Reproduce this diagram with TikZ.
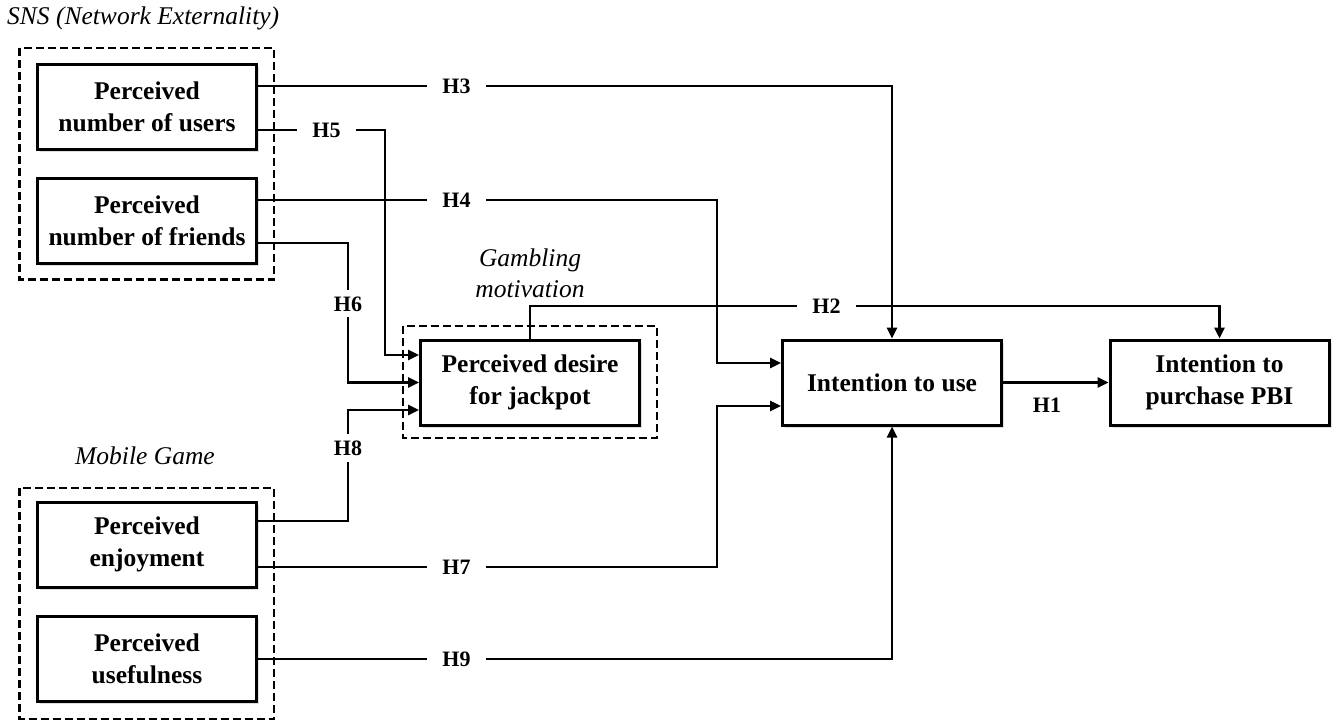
\documentclass[tikz,border=0pt]{standalone}
\usepackage{fontspec}
\setmainfont{Liberation Serif}
\usetikzlibrary{arrows.meta,shadows}
\begin{document}
\begin{tikzpicture}[x=1pt,y=-1pt,
  box/.style={draw, line width=3pt, fill=white, minimum width=219pt, minimum height=85pt,
    align=center, inner sep=0pt, font=\bfseries\fontsize{25.5}{32}\selectfont,
    drop shadow={opacity=0.25, shadow xshift=2.5pt, shadow yshift=-2.5pt}},
  hlab/.style={font=\bfseries\fontsize{22}{26}\selectfont, text height=15pt, text depth=0pt,
    inner xsep=15pt, inner ysep=6pt},
  conn/.style={line width=2.5pt},
  arr/.style={conn, -{Triangle[length=11pt,width=10pt]}},
  dbox/.style={line width=2.3pt, dash pattern=on 8pt off 4pt},
  ttl/.style={font=\itshape\fontsize{25.5}{31}\selectfont, inner sep=0pt}]
\useasboundingbox (0,0) rectangle (1338,721);

% titles
\node[ttl, anchor=base west] (snst) at (7,24) {SNS (Network Externality)};
\node[ttl, anchor=base] (mgt) at (145,464) {Mobile Game};
\node[ttl, align=center] (gmt) at (530,273) {Gambling\\motivation};

% dashed groups
\draw[dbox] (19.5,48) rectangle (274,279.5);
\draw[dbox] (19.5,488) rectangle (274,719);
\draw[dbox] (403,326) rectangle (657,438);

% boxes
\node[box] (users) at (147,106.5) {Perceived\\number of users};
\node[box] (friends) at (147,221) {Perceived\\number of friends};
\node[box] (enjoy) at (147,544.5) {Perceived\\enjoyment};
\node[box] (useful) at (147,658.5) {Perceived\\usefulness};
\node[box] (desire) at (530,382.5) {Perceived desire\\for jackpot};
\node[box] (intuse) at (892,382.5) {Intention to use};
\node[box] (purchase) at (1219.5,382.5) {Intention to\\purchase PBI};

% hypothesis labels
\node[hlab] (h3) at (456.5,86) {H3};
\node[hlab] (h4) at (456.5,200) {H4};
\node[hlab] (h5) at (326.5,130) {H5};
\node[hlab] (h6) at (348,303.5) {H6};
\node[hlab] (h2) at (826.5,306) {H2};
\node[hlab] (h8) at (348,448) {H8};
\node[hlab] (h7) at (456.5,567) {H7};
\node[hlab] (h9) at (456.5,659) {H9};
\node[hlab, inner sep=0pt] (h1) at (1047,405) {H1};

% helper coordinates
\coordinate (j5) at (385,355);
\coordinate (j4) at (717,363);
\coordinate (j6) at (348,243);
\coordinate (j7) at (717,406);
\coordinate (j8) at (348,521);

% connectors
\draw[conn] (users.east |- h3) -- (h3.west);
\draw[arr] (h3.east) -| (intuse.north);
\draw[conn] (users.east |- h5) -- (h5.west);
\draw[arr] (h5.east) -| (j5) -- (desire.west |- j5);
\draw[conn] (friends.east |- h4) -- (h4.west);
\draw[arr] (h4.east) -| (j4) -- (intuse.west |- j4);
\draw[conn] (friends.east |- j6) -- (j6) -- (h6.north);
\draw[arr] (h6.south) |- (desire.west);
\draw[conn] (enjoy.east |- j8) -- (j8) -- (h8.south);
\draw[arr] (h8.north) |- ([yshift=-27.5pt]desire.west);
\draw[conn] (desire.north) |- (h2.west);
\draw[arr] (h2.east) -| (purchase.north);
\draw[arr] (intuse.east) -- (purchase.west);
\draw[conn] (enjoy.east |- h7) -- (h7.west);
\draw[arr] (h7.east) -| (j7) -- (intuse.west |- j7);
\draw[conn] (useful.east |- h9) -- (h9.west);
\draw[arr] (h9.east) -| (intuse.south);
\end{tikzpicture}
\end{document}
